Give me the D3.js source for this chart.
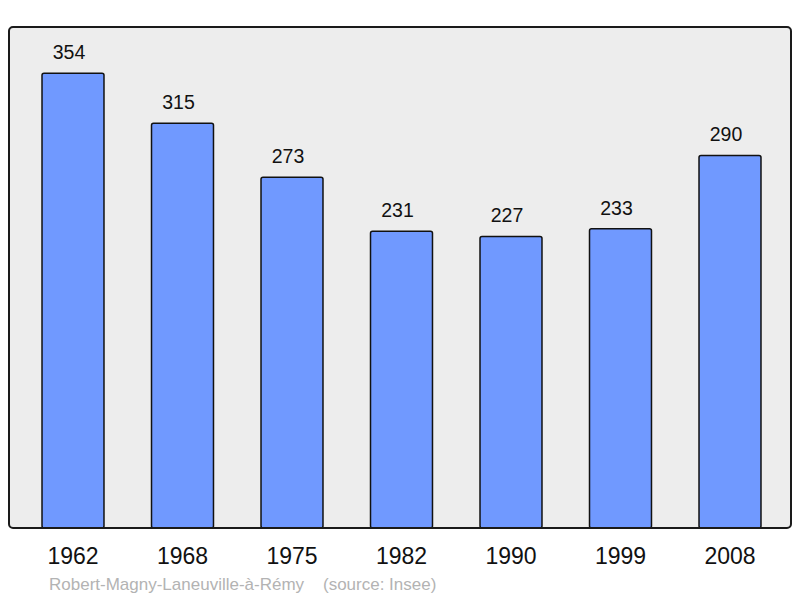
<!DOCTYPE html>
<html lang="en">
<head>
<meta charset="UTF-8">
<title>Population</title>
<script src="https://d3js.org/d3.v7.min.js"></script>
<style>
    body { margin: 0; background: #fff; }
    svg { display: block; font-family: "Liberation Sans", Arial, sans-serif; }
</style>
</head>
<body>
<svg id="chart" width="800" height="598"></svg>
<script>
    // Census years and population
    const years = ["1962", "1968", "1975", "1982", "1990", "1999", "2008"];
    const population = [354, 315, 273, 231, 227, 233, 290];
    const caption = "Robert-Magny-Laneuville-à-Rémy    (source: Insee)";

    const svg = d3.select("#chart");
    const frame = { left: 9, right: 791, top: 27, bottom: 528 };

    const x = d3.scaleBand()
        .domain(years)
        .range([18.25, 784.75])
        .paddingInner(0.434)
        .paddingOuter(0.217);

    const y = d3.scaleLinear()
        .domain([0, 390])
        .range([frame.bottom, frame.top]);

    // Plot background
    svg.append("rect")
        .attr("x", frame.left)
        .attr("y", frame.top)
        .attr("width", frame.right - frame.left)
        .attr("height", frame.bottom - frame.top)
        .attr("rx", 4)
        .attr("fill", "#ededed");

    const data = years.map((yr, i) => ({ year: yr, value: population[i] }));

    svg.append("g")
        .selectAll("rect")
        .data(data)
        .join("rect")
        .attr("x", d => x(d.year))
        .attr("y", d => y(d.value))
        .attr("width", x.bandwidth())
        .attr("height", d => y(0) - y(d.value))
        .attr("rx", 2)
        .attr("fill", "#7099ff")
        .attr("stroke", "#111")
        .attr("stroke-width", 1.5);

    // Value labels
    svg.append("g")
        .selectAll("text")
        .data(data)
        .join("text")
        .attr("x", d => x(d.year) + x.bandwidth() / 2 - 4)
        .attr("y", d => y(d.value) - 14)
        .attr("text-anchor", "middle")
        .attr("font-size", 19.5)
        .attr("fill", "#111")
        .text(d => d.value);

    // Frame border on top
    svg.append("rect")
        .attr("x", frame.left)
        .attr("y", frame.top)
        .attr("width", frame.right - frame.left)
        .attr("height", frame.bottom - frame.top)
        .attr("rx", 4)
        .attr("fill", "none")
        .attr("stroke", "#1a1a1a")
        .attr("stroke-width", 2);

    // Year labels
    const xAxis = d3.axisBottom(x).tickSize(0).tickPadding(0);
    const ax = svg.append("g")
        .attr("transform", `translate(0,${frame.bottom})`)
        .call(xAxis);
    ax.select(".domain").remove();
    ax.selectAll("text")
        .attr("y", 36)
        .attr("dy", 0)
        .attr("font-size", 23)
        .attr("font-family", "Liberation Sans, Arial, sans-serif")
        .attr("fill", "#111");

    svg.append("text")
        .attr("x", 49)
        .attr("y", 590)
        .attr("font-size", 17)
        .attr("fill", "#b3b3b3")
        .attr("xml:space", "preserve")
        .style("white-space", "pre")
        .text(caption);
</script>
</body>
</html>
